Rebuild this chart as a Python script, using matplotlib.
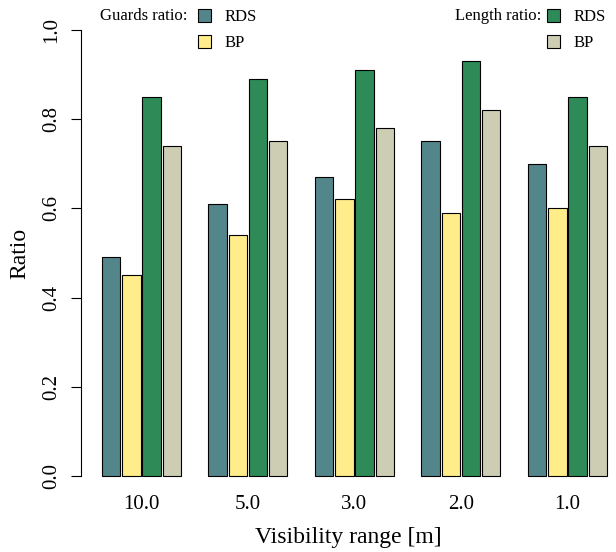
import numpy as np
import matplotlib
matplotlib.use('Agg')
import matplotlib.pyplot as plt
from matplotlib.patches import Patch

plt.rcParams['font.family'] = ['Liberation Serif', 'DejaVu Serif']

ranges = ['10.0', '5.0', '3.0', '2.0', '1.0']
guards_rds = [0.49, 0.61, 0.67, 0.75, 0.70]
guards_bp = [0.45, 0.54, 0.62, 0.59, 0.60]
length_rds = [0.85, 0.89, 0.91, 0.93, 0.85]
length_bp = [0.74, 0.75, 0.78, 0.82, 0.74]

series = [guards_rds, guards_bp, length_rds, length_bp]
colors = ['#53868B', '#FFEC8B', '#2E8B57', '#CDCDB4']

W, H = 616, 552
fig = plt.figure(figsize=(W / 100, H / 100), dpi=100)
# plot region in pixels (R style)
left_px, right_px, top_px, bot_px = 81, 616, 12, 494
ax = fig.add_axes([left_px / W, 1 - bot_px / H,
                   (right_px - left_px) / W, (bot_px - top_px) / H])

# R barplot(beside=TRUE, space=c(0.1, 1.5))
inner, outer = 0.1, 1.5
group_w = len(series) + (len(series) - 1) * inner
pitch = group_w + outer
starts = np.arange(len(ranges)) * pitch
for k, (vals, col) in enumerate(zip(series, colors)):
    x = starts + k * (1 + inner)
    ax.bar(x, vals, width=1, align='edge', color=col,
           edgecolor='black', linewidth=0.8)

px_per_unit = 18.36
ax.set_xlim(-(102 - left_px) / px_per_unit, (right_px - 102) / px_per_unit)
ax.set_ylim(-0.04, 1.04)

for s in ['top', 'right', 'bottom']:
    ax.spines[s].set_visible(False)
ax.spines['left'].set_bounds(0, 1)
ax.spines['left'].set_linewidth(0.8)

ax.set_yticks([0.0, 0.2, 0.4, 0.6, 0.8, 1.0])
ax.set_yticklabels(['0.0', '0.2', '0.4', '0.6', '0.8', '1.0'],
                   rotation=90, va='center', fontsize=15)
ax.tick_params(axis='y', length=7, width=0.8, pad=7)
ax.set_xticks(starts + group_w / 2)
ax.set_xticklabels(ranges, fontsize=15)
ax.tick_params(axis='x', length=0, pad=1)
ax.set_xlabel('Visibility range [m]', fontsize=17, labelpad=9)
ax.set_ylabel('Ratio', fontsize=17, labelpad=9)

fig.text(100 / W, 1 - 16 / H, 'Guards ratio:', fontsize=12, va='center', ha='left')
fig.text(455 / W, 1 - 16 / H, 'Length ratio:', fontsize=12, va='center', ha='left')

leg_kw = dict(loc='upper left', frameon=False, fontsize=12, handlelength=0.8,
              handleheight=0.8, handletextpad=0.8, labelspacing=0.6,
              borderaxespad=0, borderpad=0.3)
fig.legend(handles=[Patch(facecolor=colors[0], edgecolor='black', linewidth=0.8, label='RDS'),
                    Patch(facecolor=colors[1], edgecolor='black', linewidth=0.8, label='BP')],
           bbox_to_anchor=(193 / W, 1 - 4 / H), **leg_kw)
fig.legend(handles=[Patch(facecolor=colors[2], edgecolor='black', linewidth=0.8, label='RDS'),
                    Patch(facecolor=colors[3], edgecolor='black', linewidth=0.8, label='BP')],
           bbox_to_anchor=(542 / W, 1 - 4 / H), **leg_kw)

fig.savefig('out.png', dpi=100)
